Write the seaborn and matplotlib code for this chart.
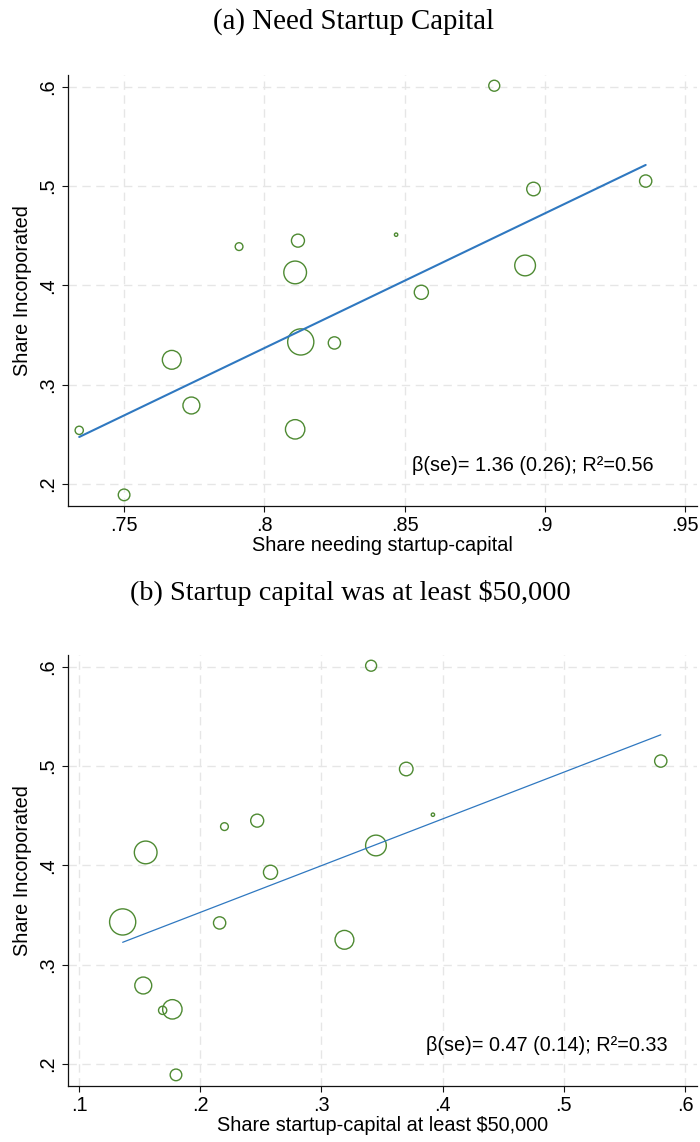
import pandas as pd
import numpy as np
import matplotlib
matplotlib.use('Agg')
import matplotlib.pyplot as plt
import seaborn as sns

# share incorporated (same groups in both panels)
share_inc = [0.254, 0.189, 0.325, 0.279, 0.439, 0.445, 0.413, 0.343,
             0.255, 0.342, 0.451, 0.393, 0.601, 0.420, 0.497, 0.505]
# share needing startup capital (panel a)
share_need = [0.734, 0.750, 0.767, 0.774, 0.791, 0.812, 0.811, 0.813,
              0.811, 0.825, 0.847, 0.856, 0.882, 0.893, 0.896, 0.936]
# share with startup capital at least $50,000 (panel b)
share_50k = [0.169, 0.180, 0.319, 0.153, 0.220, 0.247, 0.155, 0.136,
             0.177, 0.216, 0.392, 0.258, 0.341, 0.345, 0.370, 0.580]
# analytic weights (marker area)
weight = [18, 36, 94, 76, 16, 45, 137, 182,
          100, 40, 3, 53, 32, 114, 49, 40]

# fitted lines (slope, intercept)
fit_a = (1.356, -0.748)
fit_b = (0.4706, 0.2585)
note_a = 'β(se)= 1.36 (0.26); R²=0.56'
note_b = 'β(se)= 0.47 (0.14); R²=0.33'

xticks_a = [0.75, 0.8, 0.85, 0.9, 0.95]
xlabels_a = ['.75', '.8', '.85', '.9', '.95']
xticks_b = [0.1, 0.2, 0.3, 0.4, 0.5, 0.6]
xlabels_b = ['.1', '.2', '.3', '.4', '.5', '.6']
yticks = [0.2, 0.3, 0.4, 0.5, 0.6]
ylabels = ['.2', '.3', '.4', '.5', '.6']

df = pd.DataFrame({'inc': share_inc, 'need': share_need,
                   'big': share_50k, 'weight': weight})

sns.set_theme(style='white')
plt.rcParams['font.family'] = ['Liberation Sans', 'DejaVu Sans']
for key in ['text.color', 'axes.labelcolor', 'xtick.color', 'ytick.color']:
    plt.rcParams[key] = 'black'

green = '#4e8a32'
blue = '#2f78c0'
k = 1.95  # pt^2 per weight unit

fig = plt.figure(figsize=(7, 11.42), dpi=100)
ax_a = fig.add_axes([68/700, 1-506/1142, 629/700, 431/1142])
ax_b = fig.add_axes([68/700, 1-1086/1142, 629/700, 431/1142])


def panel(ax, xcol, fit, xticks, xlabels, xlim, xlabel, note, note_x, lw):
    sns.scatterplot(data=df, x=xcol, y='inc', size='weight',
                    sizes=(k*min(weight), k*max(weight)), legend=False,
                    facecolor='none', edgecolor=green, linewidth=1.0, ax=ax)
    xs = np.array([df[xcol].min(), df[xcol].max()])
    sns.lineplot(x=xs, y=fit[1] + fit[0]*xs, color=blue, linewidth=lw, ax=ax)
    ax.set_xlim(*xlim)
    ax.set_ylim(0.1778, 0.6118)
    ax.set_xticks(xticks)
    ax.set_xticklabels(xlabels)
    ax.set_yticks(yticks)
    ax.set_yticklabels(ylabels, rotation=90, va='center')
    ax.grid(True, color='#e6e6e6', linestyle=(0, (6, 4)), linewidth=1.0)
    ax.set_axisbelow(True)
    for s in ['top', 'right']:
        ax.spines[s].set_visible(False)
    for s in ['left', 'bottom']:
        ax.spines[s].set_color('#111111')
        ax.spines[s].set_linewidth(0.9)
    ax.tick_params(axis='both', direction='out', length=4, width=0.8,
                   color='#111111', labelsize=14.3, left=True, bottom=True)
    ax.tick_params(axis='x', pad=3)
    ax.tick_params(axis='y', pad=4)
    ax.set_xlabel(xlabel, fontsize=14.3, labelpad=1)
    ax.set_ylabel('Share Incorporated', fontsize=14.3, labelpad=4)
    ax.text(note_x, 0.0935, note, transform=ax.transAxes, ha='right',
            va='center', fontsize=14.3)


panel(ax_a, 'need', fit_a, xticks_a, xlabels_a, (0.7300, 0.9543),
      'Share needing startup-capital', note_a, 0.9316, 1.5)
panel(ax_b, 'big', fit_b, xticks_b, xlabels_b, (0.0909, 0.6099),
      'Share startup-capital at least $50,000', note_b, 0.9528, 0.9)

fig.text(0.505, 1-22/1142, '(a) Need Startup Capital', ha='center',
         va='center', fontsize=20.8, family=['Liberation Serif', 'DejaVu Serif'])
fig.text(0.5, 1-593/1142, '(b) Startup capital was at least $50,000',
         ha='center', va='center', fontsize=20.3,
         family=['Liberation Serif', 'DejaVu Serif'])

fig.savefig('out.png', dpi=100)
